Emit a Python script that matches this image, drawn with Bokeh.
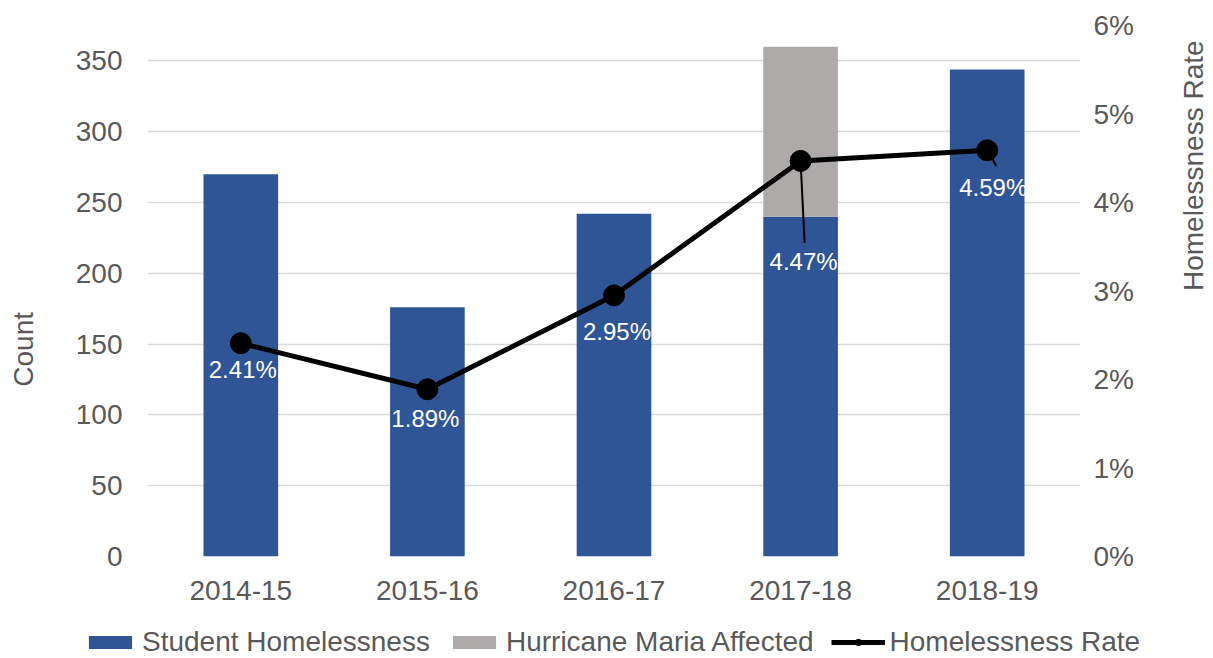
import math
from bokeh.plotting import figure
from bokeh.models import (ColumnDataSource, FactorRange, Range1d, LinearAxis, FixedTicker,
                          PrintfTickFormatter, Legend, LegendItem)
from bokeh.embed import file_html
from bokeh.resources import INLINE
from bokeh.core.properties import value

# ---- data ----
years = ["2014-15", "2015-16", "2016-17", "2017-18", "2018-19"]
student = [270, 176, 242, 240, 344]
hurricane = [0, 0, 0, 120, 0]
rate = [2.41, 1.89, 2.95, 4.47, 4.59]
rate_labels = ["2.41%", "1.89%", "2.95%", "4.47%", "4.59%"]
count_ticks = [0, 50, 100, 150, 200, 250, 300, 350]
rate_ticks = [0, 1, 2, 3, 4, 5, 6]

# ---- style ----
FONT = "Liberation Sans"
FS = "28px"
TXT = "#595959"
BLUE = "#2F5597"
GRAY = "#AEAAAA"
FRAME_W, FRAME_H = 933, 531
COUNT_MAX, RATE_MAX = 375, 6
label_dx = [2, -2, 3, 3, 6]
label_dy = [26, 29, 36, 101, 37]
# leader lines (index, px offsets from point: x0, y0, x1, y1)
leaders = [(3, 0, 0, 4, 82), (4, 5, 8, 9, 16)]
NBSP_PAD = "\u00a0" * 15   # nudges the left title down like the original

src = ColumnDataSource(dict(year=years, student=student, hurricane=hurricane,
                            rate=rate, label=rate_labels, dx=label_dx, dy=label_dy))

p = figure(frame_width=FRAME_W, frame_height=FRAME_H, x_range=FactorRange(*years),
           y_range=Range1d(0, COUNT_MAX), output_backend="svg", toolbar_location=None,
           min_border_left=147, min_border_right=0, min_border_top=25, min_border_bottom=58)
p.outline_line_color = None
p.background_fill_color = "white"

p.extra_y_ranges = {"rate": Range1d(0, RATE_MAX)}

bars = p.vbar_stack(["student", "hurricane"], x="year", width=0.4, color=[BLUE, GRAY],
                    line_color=None, source=src)

ln = p.line(x="year", y="rate", y_range_name="rate", line_width=5, color="black", source=src)
sc = p.scatter(x="year", y="rate", y_range_name="rate", size=21, color="black", source=src)

# leader lines
cat_px = FRAME_W / len(years)
px_per_rate = FRAME_H / RATE_MAX
x0s, y0s, x1s, y1s = [], [], [], []
for i, a, b, c, d in leaders:
    x0s.append(i + 0.5 + a / cat_px)
    y0s.append(rate[i] - b / px_per_rate)
    x1s.append(i + 0.5 + c / cat_px)
    y1s.append(rate[i] - d / px_per_rate)
p.segment(x0=x0s, y0=y0s, x1=x1s, y1=y1s, y_range_name="rate", line_color="black", line_width=2)

p.text(x="year", y="rate", text="label", y_range_name="rate", x_offset="dx", y_offset="dy",
       text_color="white", text_font=value(FONT), text_font_size="24px",
       text_align="center", text_baseline="middle", source=src)

# axes
def style_axis(ax):
    ax.axis_line_color = None
    ax.major_tick_line_color = None
    ax.minor_tick_line_color = None
    ax.major_tick_out = 0
    ax.major_tick_in = 0
    ax.minor_tick_out = 0
    ax.minor_tick_in = 0
    ax.major_label_text_font = FONT
    ax.major_label_text_font_size = FS
    ax.major_label_text_color = TXT
    ax.axis_label_text_font = FONT
    ax.axis_label_text_font_size = FS
    ax.axis_label_text_color = TXT
    ax.axis_label_text_font_style = "normal"

# left: tick labels
p.yaxis.ticker = FixedTicker(ticks=count_ticks)
style_axis(p.yaxis[0])
p.yaxis.major_label_standoff = 25
# left: title
ltitle = LinearAxis(ticker=FixedTicker(ticks=[]), axis_label="Count" + NBSP_PAD)
style_axis(ltitle)
ltitle.major_label_standoff = 0
ltitle.axis_label_standoff = 34
p.add_layout(ltitle, "left")

style_axis(p.xaxis[0])
p.xaxis.major_label_standoff = 24

# right: tick labels
raxis = LinearAxis(y_range_name="rate", ticker=FixedTicker(ticks=rate_ticks),
                   formatter=PrintfTickFormatter(format="%d%%"))
style_axis(raxis)
raxis.major_label_standoff = 13
p.add_layout(raxis, "right")
# right: title
rtitle = LinearAxis(y_range_name="rate", ticker=FixedTicker(ticks=[]),
                    axis_label="Homelessness Rate")
style_axis(rtitle)
rtitle.major_label_standoff = 0
rtitle.axis_label_standoff = 57
rtitle.axis_label_orientation = math.pi / 2
rtitle.axis_label_text_align = "center"
rtitle.axis_label_text_baseline = "middle"
p.add_layout(rtitle, "right")

p.xgrid.grid_line_color = None
p.ygrid.grid_line_color = "#D9D9D9"
p.ygrid.grid_line_width = 1.5

# legend strip: separate figure, same data drawn off-range so only the legend shows
lg = figure(width=1213, height=44, x_range=FactorRange(*years), y_range=Range1d(1000, 1001),
            output_backend="svg", toolbar_location=None, x_axis_location=None,
            y_axis_location=None, min_border=0, outline_line_color=None)
lg.grid.grid_line_color = None
lbars = lg.vbar_stack(["student", "hurricane"], x="year", width=0.4, color=[BLUE, GRAY],
                      line_color=None, source=src)
lln = lg.line(x="year", y="rate", line_width=5, color="black", source=src)
lsc = lg.scatter(x="year", y="rate", size=21, color="black", source=src)

legend = Legend(items=[LegendItem(label="Student Homelessness", renderers=[lbars[0]]),
                       LegendItem(label="Hurricane Maria Affected", renderers=[lbars[1]]),
                       LegendItem(label="Homelessness Rate", renderers=[lln, lsc])],
                orientation="horizontal", location=(83, 0), border_line_color=None,
                background_fill_alpha=0, label_text_font=FONT, label_text_font_size=FS,
                label_text_color=TXT, glyph_width=54, glyph_height=16, spacing=17,
                label_standoff=5, padding=0, margin=0)
lg.add_layout(legend, "center")

open("out.html", "w").write(file_html([p, lg], INLINE))
